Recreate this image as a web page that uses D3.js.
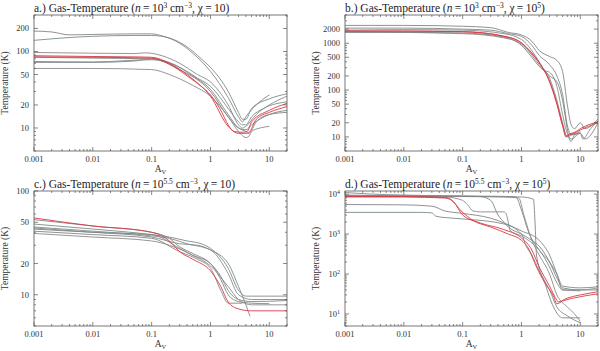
<!DOCTYPE html>
<html>
<head>
<meta charset="utf-8">
<script src="https://cdn.jsdelivr.net/npm/d3@7"></script>
<style>
  body { margin: 0; background: #fff; }
  svg { display: block; }
</style>
</head>
<body>
<svg id="chart" width="600" height="351"></svg>
<script>
// x ticks shared by all panels
const avTicks = [0.001, 0.01, 0.1, 1, 10]

// panel a.) n = 10^3, chi = 10
const aGray = [
  [[0.001,185],[0.002,180],[0.004,165],[0.01,167],[0.05,170],[0.1,170],[0.15,160],[0.3,128],[0.5,95],[1,55],[2,25],[3,14],[3.5,12],[4,14],[6,20],[10,27]],
  [[0.001,140],[0.003,150],[0.01,158],[0.05,162],[0.1,162],[0.2,150],[0.4,115],[0.7,80],[1,62],[2,30],[3,16],[3.5,13],[4,13],[5,18],[10,24],[20,28]],
  [[0.001,97],[0.01,95],[0.05,94],[0.08,96],[0.15,88],[0.3,70],[0.6,50],[1,40],[2,20],[3,11],[3.5,10],[4,10.5],[6,15],[10,20],[20,26]],
  [[0.001,84],[0.01,82],[0.1,80],[0.3,58],[1,30],[2,14],[3,10],[4,9.5],[5,11],[10,15],[20,17]],
  [[0.001,72],[0.01,72],[0.05,75],[0.1,80],[0.2,72],[0.5,48],[1,32],[2,15],[3,10],[4,9],[4.5,8.5],[6,12],[10,15],[20,16]],
  [[0.001,74],[0.01,73],[0.1,78],[0.3,62],[0.6,45],[1,35],[2,18],[3,12],[3.5,11],[4,11],[5,14],[8,18],[20,22]],
  [[0.001,60],[0.01,60],[0.1,58],[0.2,50],[0.5,36],[1,26],[2,14],[3,9],[4,7.5],[4.5,7.8],[5,9],[7,10],[10,10.5]]
]
const aRed = [
  [[0.001,88],[0.01,86],[0.05,85],[0.1,84],[0.2,70],[0.4,50],[0.7,35],[1,27],[1.5,17],[2,11],[2.5,9],[3.5,8.8],[4.2,9],[5,12],[10,17],[20,21]],
  [[0.001,85],[0.01,84],[0.1,82],[0.2,68],[0.4,48],[1,26],[2,10.5],[3,8.5],[4,8.5],[4.5,8.7],[6,13],[10,16],[20,19]]
]

// panel b.) n = 10^3, chi = 10^5
const bGray = [
  [[0.001,2400],[0.01,2400],[0.1,2300],[0.3,2150],[0.6,1700],[1,1500],[1.5,1100],[2,700],[3,520],[4,430],[5,250],[6,50],[7,18],[8,15],[10,20],[12,15],[20,24]],
  [[0.001,2100],[0.01,2100],[0.1,2000],[0.3,1900],[0.6,1600],[1,1400],[1.5,900],[2,550],[3,350],[4,200],[5,80],[6,18],[7,11],[10,13]],
  [[0.001,1900],[0.01,1950],[0.1,1900],[0.5,1600],[1,1200],[1.5,700],[2,400],[2.5,260],[3,240],[4,120],[5,30],[6,12],[7,9],[10,12],[11,9],[15,15],[20,22]],
  [[0.001,1700],[0.01,1700],[0.1,1650],[0.5,1350],[1,900],[1.5,500],[2,320],[2.5,250],[3,200],[4,150],[5,60],[6,15],[6.5,9],[7,8],[8,11],[10,12]],
  [[0.001,1750],[0.1,1600],[0.5,1300],[1,950],[2,350],[3,180],[4,60],[5,20],[6,10],[7,11],[10,12],[12,9],[20,20]]
]
const bRed = [
  [[0.001,1800],[0.01,1800],[0.1,1750],[0.5,1400],[1,1000],[1.5,600],[2,380],[3,150],[4,50],[5,17],[5.7,10],[6.5,11],[8,12],[10,14],[20,20]],
  [[0.001,1830],[0.01,1820],[0.1,1770],[0.5,1420],[1,1020],[1.5,620],[2,390],[3,155],[4,52],[5,18],[5.8,10.5],[6.5,11.5],[8,12.5],[10,15],[20,21]]
]

// panel c.) n = 10^5.5, chi = 10
const cGray = [
  [[0.001,53],[0.01,46],[0.1,40],[0.2,35],[0.3,29],[0.5,25],[1,20],[1.5,15],[2,11],[3,9],[5,8.6],[20,8.8]],
  [[0.001,48],[0.01,43],[0.1,38],[0.2,36],[0.4,33],[0.7,31],[1,28],[2,18],[3,11],[4,9.7],[20,9.7]],
  [[0.001,45],[0.01,41],[0.1,37],[0.2,35],[0.4,31],[1,27],[2,16],[3,10],[5,9],[20,9]],
  [[0.001,43],[0.01,40],[0.1,38],[0.3,28],[0.5,24],[1,20],[1.5,14],[2,10],[3,8.6],[5,8.3],[10,8.2]],
  [[0.001,41],[0.01,38],[0.1,35],[0.3,26],[0.6,22],[1,18],[1.5,11],[2,8.3],[3.5,8.3]],
  [[0.001,44],[0.01,40],[0.1,36],[0.3,31],[0.6,30],[1,27],[2,20],[3,12],[4,8],[4.7,6.2]],
  [[0.001,39],[0.01,36],[0.1,33],[0.2,30],[0.5,24],[1,19],[2,12],[3,9],[5,8],[20,8]]
]
const cRed = [
  [[0.001,55],[0.01,46],[0.1,40],[0.2,33],[0.3,26],[0.5,22],[1,17],[1.5,12],[2,8.5],[3,7.3],[5,7],[20,7]]
]

// panel d.) n = 10^5.5, chi = 10^5
const dGray = [
  [[0.001,9000],[0.01,9000],[0.1,8800],[1,8500],[1.6,7500],[1.7,2000],[1.8,300],[2.5,60],[3.5,15],[5,8],[10,8]],
  [[0.001,11000],[0.003,10000],[0.01,9500],[0.1,9000],[0.5,8800],[0.8,8500],[1,4000],[1.3,1200],[2,400],[3,200],[4,100],[5,50],[10,45],[20,48]],
  [[0.001,9500],[0.01,9000],[0.1,8700],[0.5,8500],[0.9,8000],[1.1,3000],[1.5,700],[2,300],[3,100],[4,30],[6,15],[8,10],[10,6.5]],
  [[0.001,9000],[0.01,9000],[0.1,8900],[0.2,8700],[0.3,7000],[0.4,3000],[0.5,2000],[0.6,1500],[1,1000],[1.5,700],[2,500],[3,200],[4,80],[5,45],[10,40],[20,40]],
  [[0.001,5500],[0.01,5400],[0.03,5000],[0.05,3800],[0.1,3300],[0.3,2500],[1,1200],[2,700],[3,300],[4,100],[5,40],[10,38]],
  [[0.001,3500],[0.02,3500],[0.03,3400],[0.035,2800],[0.05,2600],[0.1,2400],[0.5,1800],[1,1000],[1.2,500],[1.5,300],[2,120],[3,40],[4,15],[6,9],[10,6]],
  [[0.001,9000],[0.05,8500],[0.1,7000],[0.12,5500],[0.15,3800],[0.2,3600],[0.5,3600],[0.55,3200],[0.65,1200],[1,900],[1.5,600],[2,400],[3,150],[4,60],[5,40],[10,40],[20,45]]
]
const dRed = [
  [[0.001,8500],[0.01,8500],[0.05,8000],[0.06,7500],[0.1,3500],[0.15,2200],[0.3,1500],[0.6,1000],[1,700],[1.3,450],[1.8,150],[2.5,60],[3.5,28],[4,18],[5,21],[10,27],[20,32]],
  [[0.001,8800],[0.01,8700],[0.05,8300],[0.07,6500],[0.1,3000],[0.2,1900],[0.5,1300],[1,800],[1.5,400],[2,150],[3,50],[4,22],[4.2,20],[6,25],[10,30],[20,36]]
]

const aYTicks = [10, 20, 50, 100, 200]
const bYTicks = [10, 20, 50, 100, 200, 500, 1000, 2000]
const cYTicks = [10, 20, 50, 100]
const dYTicks = [10, 100, 1000, 10000]

const panels = [
  { tag: 'a.)', dens: '3', chi: null, x0: 34, x1: 287, y0: 15, y1: 151, yDom: [5, 300], ticks: aYTicks, gray: aGray, red: aRed },
  { tag: 'b.)', dens: '3', chi: '5', x0: 345, x1: 598, y0: 15, y1: 151, yDom: [5, 4000], ticks: bYTicks, gray: bGray, red: bRed },
  { tag: 'c.)', dens: '5.5', chi: null, x0: 34, x1: 287, y0: 191, y1: 326, yDom: [5, 100], ticks: cYTicks, gray: cGray, red: cRed },
  { tag: 'd.)', dens: '5.5', chi: '5', x0: 345, x1: 598, y0: 191, y1: 326, yDom: [5, 12000], ticks: dYTicks, gray: dGray, red: dRed, pow: true }
]

const FONT = 'Liberation Serif'
const svg = d3.select('#chart')
const grayCols = ['#858585', '#7c8a8a', '#8a8a8a', '#788585']
const ink = '#333'
const thin = '\u2009'

// minor ticks of a log axis between lo and hi
const logMinor = (lo, hi) => {
  const out = []
  for (let e = Math.floor(Math.log10(lo)); e <= Math.ceil(Math.log10(hi)); e++) {
    for (let m = 1; m < 10; m++) {
      const v = m * Math.pow(10, e)
      if (v >= lo * 0.999 && v <= hi * 1.001) out.push(v)
    }
  }
  return out
}

panels.forEach((p, pi) => {
  const x = d3.scaleLog().domain([0.001, 20]).range([p.x0, p.x1])
  const y = d3.scaleLog().domain(p.yDom).range([p.y1, p.y0])
  const g = svg.append('g')

  // curves
  const clipId = 'clip' + pi
  svg.append('clipPath').attr('id', clipId)
    .append('rect').attr('x', p.x0).attr('y', p.y0).attr('width', p.x1 - p.x0).attr('height', p.y1 - p.y0)
  const line = d3.line().x(d => x(d[0])).y(d => y(d[1])).curve(d3.curveMonotoneX)
  const cg = g.append('g').attr('clip-path', `url(#${clipId})`)
  cg.selectAll('.gray').data(p.gray).enter().append('path')
    .attr('d', line)
    .attr('fill', 'none')
    .attr('stroke', (d, i) => grayCols[i % grayCols.length])
    .attr('stroke-width', 0.9)
  cg.selectAll('.red').data(p.red).enter().append('path')
    .attr('d', line)
    .attr('fill', 'none')
    .attr('stroke', '#d83a44')
    .attr('stroke-width', 0.9)

  // frame
  g.append('rect')
    .attr('x', p.x0).attr('y', p.y0)
    .attr('width', p.x1 - p.x0).attr('height', p.y1 - p.y0)
    .attr('fill', 'none').attr('stroke', '#555').attr('stroke-width', 0.8)

  // ticks, inward on all sides
  const tk = g.append('g').attr('stroke', '#555').attr('stroke-width', 0.7)
  logMinor(0.001, 20).forEach(v => {
    const len = avTicks.includes(v) ? 4 : 2
    tk.append('line').attr('x1', x(v)).attr('x2', x(v)).attr('y1', p.y1).attr('y2', p.y1 - len)
    tk.append('line').attr('x1', x(v)).attr('x2', x(v)).attr('y1', p.y0).attr('y2', p.y0 + len)
  })
  logMinor(p.yDom[0], p.yDom[1]).forEach(v => {
    const len = p.ticks.includes(v) ? 4 : 2
    tk.append('line').attr('y1', y(v)).attr('y2', y(v)).attr('x1', p.x0).attr('x2', p.x0 + len)
    tk.append('line').attr('y1', y(v)).attr('y2', y(v)).attr('x1', p.x1).attr('x2', p.x1 - len)
  })

  // tick labels
  g.selectAll('.xl').data(avTicks).enter().append('text')
    .attr('font-family', FONT)
    .attr('x', d => x(d)).attr('y', p.y1 + 11)
    .attr('text-anchor', 'middle').attr('font-size', 8.5).attr('fill', ink)
    .text(d => d)
  const yl = g.selectAll('.yl').data(p.ticks).enter().append('text')
    .attr('font-family', FONT)
    .attr('x', p.x0 - 5).attr('y', d => y(d) + 3)
    .attr('text-anchor', 'end').attr('font-size', 8.5).attr('fill', ink)
  if (p.pow) {
    yl.text('10').append('tspan').attr('dy', -3).attr('font-size', 6).text(d => Math.round(Math.log10(d)))
  } else {
    yl.text(d => d)
  }

  // axis titles
  const xt = g.append('text')
    .attr('font-family', FONT)
    .attr('x', (p.x0 + p.x1) / 2).attr('y', p.y1 + 21)
    .attr('text-anchor', 'middle').attr('font-size', 9.5).attr('fill', ink)
  xt.append('tspan').text('A')
  xt.append('tspan').attr('dy', 2).attr('font-size', 6.5).text('V')

  g.append('text')
    .attr('font-family', FONT)
    .attr('transform', `translate(${p.x0 - 26},${(p.y0 + p.y1) / 2}) rotate(-90)`)
    .attr('text-anchor', 'middle').attr('font-size', 9.5).attr('fill', ink)
    .text('Temperature (K)')

  // panel title
  const t = g.append('text').attr('font-family', FONT)
    .attr('x', p.x0).attr('y', p.y0 - 3.5).attr('font-size', 11.5).attr('fill', '#222')
  t.append('tspan').text(p.tag + ' Gas-Temperature (')
  t.append('tspan').attr('font-style', 'italic').text('n')
  t.append('tspan').text(thin + '=' + thin + '10')
  t.append('tspan').attr('dy', -4).attr('font-size', 7.5).text(p.dens)
  t.append('tspan').attr('dy', 4).text(' cm')
  t.append('tspan').attr('dy', -4).attr('font-size', 7.5).text('\u22123')
  t.append('tspan').attr('dy', 4).text(', \u03c7' + thin + '=' + thin + '10')
  if (p.chi) {
    t.append('tspan').attr('dy', -4).attr('font-size', 7.5).text(p.chi)
    t.append('tspan').attr('dy', 4).text(')')
  } else {
    t.append('tspan').text(')')
  }
})
</script>
</body>
</html>
